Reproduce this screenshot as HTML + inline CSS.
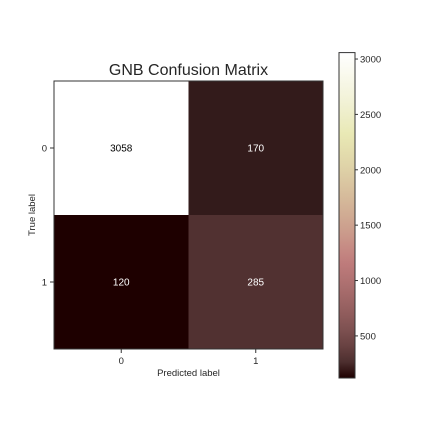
<!DOCTYPE html>
<html><head><meta charset="utf-8"><style>
body{margin:0;background:#fff;}
svg text{font-family:"Liberation Sans",sans-serif;}
</style></head><body>
<svg id="c" width="432" height="432" xmlns="http://www.w3.org/2000/svg">
<defs><linearGradient id="cbg" x1="0" y1="1" x2="0" y2="0"></linearGradient></defs>
</svg>
<script>
const trueLabels=["0","1"];
const predLabels=["0","1"];
const matrixValues=[[3058,170],[120,285]];
const cbTicks=[500,1000,1500,2000,2500,3000];

const svg=document.getElementById('c');
const NS='http://www.w3.org/2000/svg';
function mk(t,a,p){const e=document.createElementNS(NS,t);for(const k in a)e.setAttribute(k,a[k]);(p||svg).appendChild(e);return e;}
const flat=matrixValues.flat();
const vmin=Math.min(...flat),vmax=Math.max(...flat);
function clip(v){return Math.max(0,Math.min(1,v));}
function pink(t){
  const hr=clip(0.0416+t/0.365*0.9584),hg=clip((t-0.365)/0.381),hb=clip((t-0.746)/0.254);
  const f=h=>Math.round(255*Math.sqrt((2*t+h)/3));
  return [f(hr),f(hg),f(hb)];
}
function col(v){const c=pink((v-vmin)/(vmax-vmin));return 'rgb('+c.join(',')+')';}
const L=54,T=81,W=269,H=268;
const cw=W/predLabels.length,ch=H/trueLabels.length;
const xC=j=>L+cw*(j+0.5), yC=i=>T+ch*(i+0.5);
matrixValues.forEach((row,i)=>row.forEach((v,j)=>{
  const r=mk('rect',{x:L+cw*j,y:T+ch*i,width:cw+0.5,height:ch+0.5,fill:col(v)});
  
  
  const t=(v-vmin)/(vmax-vmin);
  const tx=mk('text',{x:xC(j),y:yC(i)+3.5,'text-anchor':'middle','font-size':'10',fill:t>0.5?'#000':'#fff'});
  tx.textContent=v;
  
  
}));
mk('rect',{x:L,y:T,width:W,height:H,fill:'none',stroke:'#333','stroke-width':'1'});
predLabels.forEach((l,j)=>{
  mk('line',{x1:xC(j),x2:xC(j),y1:T+H,y2:T+H+4,stroke:'#333'});
  const t=mk('text',{x:xC(j),y:T+H+15,'text-anchor':'middle','font-size':'9.5',fill:'#262626'});t.textContent=l;
  
  
});
trueLabels.forEach((l,i)=>{
  mk('line',{x1:L-4,x2:L,y1:yC(i),y2:yC(i),stroke:'#333'});
  const t=mk('text',{x:L-7,y:yC(i)+3.5,'text-anchor':'end','font-size':'9.5',fill:'#262626'});t.textContent=l;
  
  
});
let e=mk('text',{x:L+W/2,y:T+H+27,'text-anchor':'middle','font-size':'9.5',fill:'#262626'});e.textContent='Predicted label';


e=mk('text',{x:0,y:0,'text-anchor':'middle','font-size':'9.5',fill:'#262626',transform:'translate(35,'+(T+H/2)+') rotate(-90)'});e.textContent='True label';


e=mk('text',{x:L+W/2,y:75,'text-anchor':'middle','font-size':'16',fill:'#262626'});e.textContent='GNB Confusion Matrix';


// colorbar
const g=document.getElementById('cbg');
for(let k=0;k<=20;k++){const c=pink(k/20);mk('stop',{offset:(k/20),'stop-color':'rgb('+c.join(',')+')'},g);}
const CX=339,CW=16,CT=52.6,CB=378;
const cy=v=>CB-(v-vmin)/(vmax-vmin)*(CB-CT);
e=mk('rect',{x:CX,y:CT,width:CW,height:CB-CT,fill:'url(#cbg)',stroke:'#333','stroke-width':'1'});


cbTicks.forEach(v=>{
  mk('line',{x1:CX+CW,x2:CX+CW+3,y1:cy(v),y2:cy(v),stroke:'#333'});
  const t=mk('text',{x:CX+CW+5,y:cy(v)+3.5,'font-size':'9.5',fill:'#262626'});t.textContent=v;
  
  
});
</script>
</body></html>
